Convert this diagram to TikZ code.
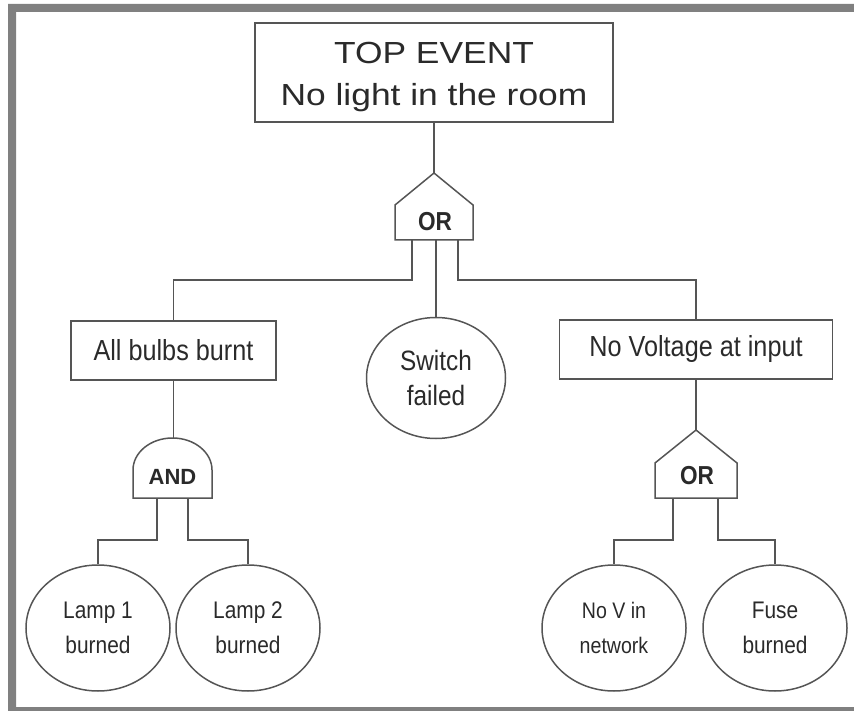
\documentclass[tikz,border=0pt]{standalone}
\usepackage{fontspec}
\setmainfont{Liberation Sans}
\newfontfamily\topf[FakeStretch=1.16]{Liberation Sans}
\newfontfamily\midf[FakeStretch=0.87]{Liberation Sans}
\usetikzlibrary{shapes.geometric}
\definecolor{framegray}{HTML}{808080}
\definecolor{linegray}{HTML}{555555}
\definecolor{textgray}{HTML}{2A2A2A}
\begin{document}
\begin{tikzpicture}[x=1pt,y=-1pt,
  ln/.style={draw=linegray, line width=1.5pt, line join=miter},
  evbox/.style={draw=linegray, line width=1.5pt, rectangle, inner sep=0pt, text=textgray},
  midbox/.style={evbox, minimum width=205pt, minimum height=59pt, font=\midf\fontsize{29}{32}\selectfont},
  basic/.style={draw=linegray, line width=1.5pt, ellipse, inner sep=0pt, align=center, text=textgray},
  leaf/.style={basic, minimum width=144pt, minimum height=126pt, font=\midf\fontsize{24}{35}\selectfont},
  gatetxt/.style={inner sep=0pt, text=textgray, font=\bfseries\fontsize{22}{24}\selectfont},
  ortxt/.style={gatetxt, font=\midf\bfseries\fontsize{26}{28}\selectfont},
  toptxt/.style={inner sep=0pt, align=center, text=textgray, font=\topf\fontsize{30.5}{42}\selectfont}]
\useasboundingbox (0,0) rectangle (854,711);
% frame
\fill[framegray, even odd rule] (8,4) rectangle (880,730) (16,12) rectangle (880,707);

% top event
\node[evbox, minimum width=358pt, minimum height=99pt] (top) at (434,72.5) {};
\node[toptxt] (toptext) at (434,77) {TOP EVENT\\No light in the room};

% OR gate 1
\draw[ln] (395,240) -- (473,240) -- (473,205) -- (434,173) -- (395,205) -- cycle;
\node[ortxt] (g1) at (435,222) {OR};
\coordinate (g1in) at (434,173);
\coordinate (g1o1) at (412,240);
\coordinate (g1o2) at (436,240);
\coordinate (g1o3) at (458,240);

% level 2
\node[midbox] (bulbs) at (173.5,350.5) {All bulbs burnt};
\node[basic, minimum width=139pt, minimum height=121pt, font=\midf\fontsize{28}{35}\selectfont] (switch) at (436,378) {Switch\\failed};
\node[midbox, minimum width=273pt] (novolt) at (696,349.5) {No Voltage at input};

% AND gate
\draw[ln] (133,498) -- (212,498) -- (212,470) arc[start angle=0, end angle=180, x radius=39.5pt, y radius=32pt] -- cycle;
\node[gatetxt] (and) at (172.5,477) {AND};
\coordinate (andin) at (173.5,438);
\coordinate (ando1) at (157,498);
\coordinate (ando2) at (188,498);

% OR gate 2
\draw[ln] (655,498) -- (737,498) -- (737,463) -- (696,430) -- (655,463) -- cycle;
\node[ortxt] (g2) at (697,476) {OR};
\coordinate (g2in) at (696,430);
\coordinate (g2o1) at (673,498);
\coordinate (g2o2) at (718,498);

% leaves
\node[leaf] (lamp1) at (98,628) {Lamp 1\\burned};
\node[leaf] (lamp2) at (248,628) {Lamp 2\\burned};
\node[leaf, font=\midf\fontsize{22.5}{35}\selectfont] (nov) at (614,628) {No V in\\network};
\node[leaf] (fuse) at (775,628) {Fuse\\burned};

% connectors
\draw[ln] (top.south) -- (g1in);
\draw[ln] (g1o1) -- ++(0,40) -| (bulbs.north);
\draw[ln] (g1o2) -- (switch.north);
\draw[ln] (g1o3) -- ++(0,40) -| (novolt.north);
\draw[ln] (bulbs.south) -- (andin);
\draw[ln] (novolt.south) -- (g2in);
\draw[ln] (ando1) -- ++(0,42) -| (lamp1.north);
\draw[ln] (ando2) -- ++(0,42) -| (lamp2.north);
\draw[ln] (g2o1) -- ++(0,42) -| (nov.north);
\draw[ln] (g2o2) -- ++(0,42) -| (fuse.north);
\end{tikzpicture}
\end{document}
